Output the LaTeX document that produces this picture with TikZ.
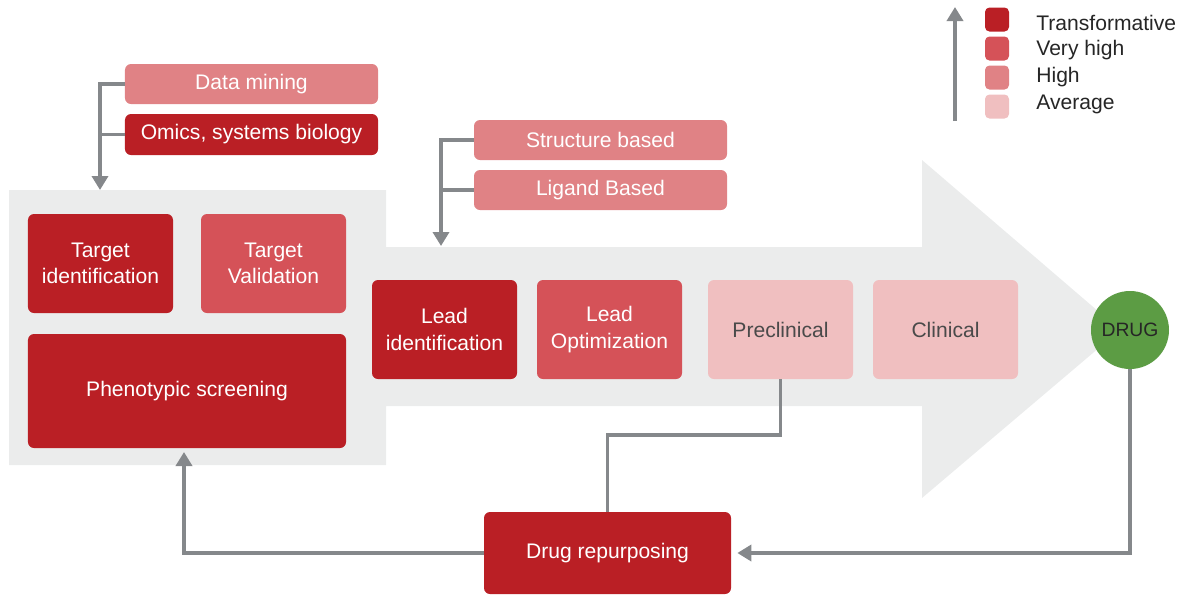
\documentclass[tikz,border=0pt]{standalone}
\usepackage{fontspec}
\setmainfont{Liberation Sans}
\usetikzlibrary{arrows.meta}
\definecolor{cT}{HTML}{BA1F25}
\definecolor{cV}{HTML}{D55258}
\definecolor{cH}{HTML}{E08285}
\definecolor{cA}{HTML}{F0BFC0}
\definecolor{bggray}{HTML}{EBECEC}
\definecolor{lgray}{HTML}{85888B}
\definecolor{dgreen}{HTML}{5C9C44}
\definecolor{dtext}{HTML}{4A4A4A}
\tikzset{
  box/.style={rectangle, rounded corners=1.2mm, inner sep=0pt, align=center, text=white,
    font=\fontsize{12}{15}\selectfont},
  smallbox/.style={box, minimum width=50.6mm, minimum height=8mm},
  midbox/.style={box, minimum width=29mm, minimum height=19.8mm},
  conn/.style={draw=lgray, line width=0.75mm},
  arr/.style={conn, -{Triangle[width=3.2mm,length=2.8mm]}},
  legsq/.style={rectangle, rounded corners=0.9mm, minimum width=4.8mm, minimum height=4.8mm, inner sep=0pt},
  legtxt/.style={anchor=west, inner sep=0pt, text=black!85, font=\fontsize{12}{15}\selectfont}
}
\begin{document}
\begin{tikzpicture}[x=0.2mm, y=-0.2mm]
\useasboundingbox (0,0) rectangle (1180,595);
% background arrow
\fill[bggray] (9,190) -- (386,190) -- (386,247) -- (922,247) -- (922,160) -- (1120,330)
  -- (922,498) -- (922,406) -- (386,406) -- (386,465) -- (9,465) -- cycle;
% boxes
\node[smallbox, fill=cH] (dm) at (251.5,84) {Data mining};
\node[smallbox, fill=cT, minimum height=8.2mm] (om) at (251.5,134.5) {Omics, systems biology};
\node[smallbox, fill=cH] (sb) at (600.5,140) {Structure based};
\node[smallbox, fill=cH] (lb) at (600.5,190) {Ligand Based};
\node[midbox, fill=cT] (ti) at (100.5,263.5) {Target\\identification};
\node[midbox, fill=cV] (tv) at (273.5,263.5) {Target\\Validation};
\node[box, fill=cT, minimum width=63.6mm, minimum height=22.8mm] (ps) at (187,391) {Phenotypic screening};
\node[midbox, fill=cT] (li) at (444.5,329.5) {Lead\\identification};
\node[midbox, fill=cV] (lo) at (609.5,329.5) {Lead\\Optimization};
\node[midbox, fill=cA, text=dtext] (pc) at (780.5,329.5) {Preclinical};
\node[midbox, fill=cA, text=dtext] (cl) at (945.5,329.5) {Clinical};
\node[circle, fill=dgreen, minimum size=15.6mm, inner sep=0pt, text=black!85,
  font=\fontsize{11}{13}\selectfont] (drug) at (1130,330) {DRUG};
\node[box, fill=cT, minimum width=49.4mm, minimum height=16.4mm] (dr) at (607.5,553) {Drug repurposing};
% connectors
\coordinate (bgin) at (100,190);
\coordinate (bodyin) at (441,246);
\coordinate (psin) at (184,452);
\draw[arr] (dm.west) -| (bgin);
\draw[conn] (om.west) -- (om.west -| bgin);
\draw[arr] (sb.west) -| (bodyin);
\draw[conn] (lb.west) -- (lb.west -| bodyin);
\draw[conn] (pc.south) -- ++(0,56) -| (dr.north);
\draw[arr, shorten >=1.2mm] (drug.south) |- (dr.east);
\draw[arr] (dr.west) -| (psin);
% legend
\coordinate (legbot) at (955,121);
\coordinate (legtop) at (955,7);
\draw[arr] (legbot) -- (legtop);
\node[legsq, fill=cT] (l1) at (997,19.5) {};
\node[legsq, fill=cV] (l2) at (997,48.5) {};
\node[legsq, fill=cH] (l3) at (997,77.5) {};
\node[legsq, fill=cA] (l4) at (997,106.5) {};
\node[legtxt] (t1) at (1036,23) {Transformative};
\node[legtxt] (t2) at (1036,50) {Very high};
\node[legtxt] (t3) at (1036,77) {High};
\node[legtxt] (t4) at (1036,104) {Average};
\end{tikzpicture}
\end{document}
